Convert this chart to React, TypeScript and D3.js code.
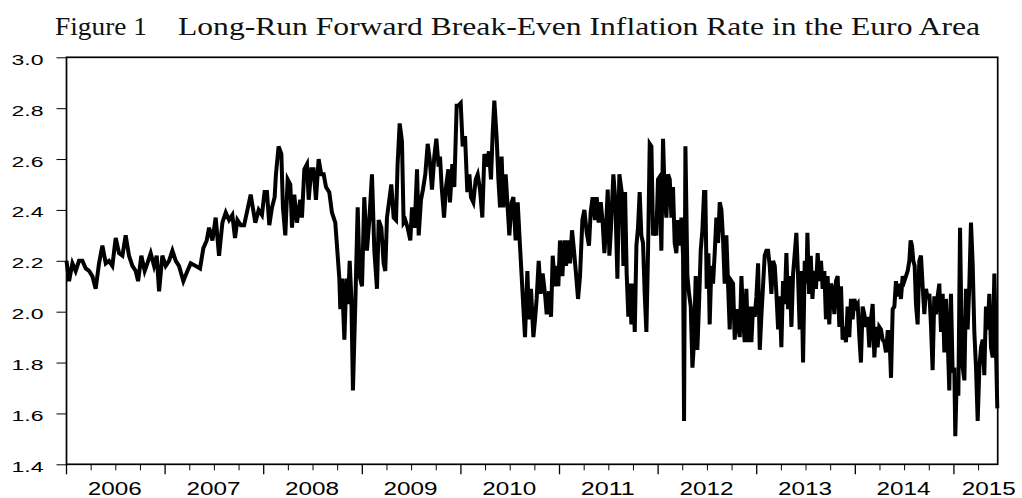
import { useEffect, useRef } from 'react';
import * as d3 from 'd3';

const WIDTH = 1022;
const HEIGHT = 498;
const MARGIN = { top: 57.3, right: 24.3, bottom: 33.7, left: 66.5 };

const TITLE_LEFT = 'Figure 1';
const TITLE_RIGHT = 'Long-Run Forward Break-Even Inflation Rate in the Euro Area';

const yTicks = [1.4, 1.6, 1.8, 2.0, 2.2, 2.4, 2.6, 2.8, 3.0];
const yearLabels = [2006, 2007, 2008, 2009, 2010, 2011, 2012, 2013, 2014, 2015];
const xDomain: [number, number] = [2006, 2015.444];

// [decimal year, break-even rate %]
const y2006: [number, number][] = [
  [2006.0, 2.2], [2006.026, 2.12], [2006.06, 2.19], [2006.093, 2.16], [2006.127, 2.2], [2006.161, 2.2],
  [2006.195, 2.17], [2006.229, 2.16], [2006.262, 2.14], [2006.296, 2.09], [2006.33, 2.19], [2006.364, 2.26],
  [2006.398, 2.19], [2006.431, 2.2], [2006.465, 2.18], [2006.499, 2.29], [2006.533, 2.23], [2006.567, 2.22],
  [2006.6, 2.3], [2006.634, 2.22], [2006.668, 2.18], [2006.702, 2.16], [2006.726, 2.12], [2006.759, 2.22],
  [2006.793, 2.16], [2006.82, 2.19], [2006.854, 2.23], [2006.888, 2.18], [2006.915, 2.22], [2006.939, 2.08],
  [2006.972, 2.22],
];
const y2007: [number, number][] = [
  [2007.006, 2.18], [2007.04, 2.2], [2007.074, 2.24], [2007.108, 2.2], [2007.141, 2.18], [2007.185, 2.12],
  [2007.226, 2.16], [2007.26, 2.19], [2007.31, 2.18], [2007.354, 2.17], [2007.388, 2.25], [2007.422, 2.28],
  [2007.446, 2.33], [2007.48, 2.28], [2007.513, 2.37], [2007.547, 2.22], [2007.581, 2.35], [2007.615, 2.39],
  [2007.649, 2.36], [2007.682, 2.38], [2007.709, 2.29], [2007.733, 2.36], [2007.767, 2.34], [2007.801, 2.34],
  [2007.835, 2.4], [2007.868, 2.46], [2007.915, 2.35], [2007.949, 2.4], [2007.982, 2.38],
];
const y2008: [number, number][] = [
  [2008.009, 2.47], [2008.033, 2.47], [2008.057, 2.34], [2008.084, 2.41], [2008.111, 2.45], [2008.124, 2.54],
  [2008.151, 2.65], [2008.179, 2.62], [2008.195, 2.41], [2008.219, 2.3], [2008.243, 2.52], [2008.27, 2.5],
  [2008.287, 2.33], [2008.31, 2.46], [2008.337, 2.35], [2008.371, 2.44], [2008.388, 2.37], [2008.412, 2.56],
  [2008.439, 2.58], [2008.456, 2.44], [2008.483, 2.56], [2008.506, 2.56], [2008.53, 2.44], [2008.557, 2.6],
  [2008.584, 2.54], [2008.608, 2.54], [2008.632, 2.49], [2008.665, 2.47], [2008.692, 2.39], [2008.726, 2.35],
  [2008.743, 2.26], [2008.767, 2.13], [2008.777, 2.01], [2008.794, 2.13], [2008.818, 1.89], [2008.838, 2.13],
  [2008.855, 2.03], [2008.872, 2.2], [2008.889, 2.05], [2008.905, 1.69], [2008.929, 2.03], [2008.953, 2.41],
  [2008.973, 2.14], [2008.997, 2.1],
];
const y2009: [number, number][] = [
  [2009.02, 2.45], [2009.047, 2.24], [2009.071, 2.36], [2009.098, 2.54], [2009.122, 2.24], [2009.149, 2.09],
  [2009.166, 2.36], [2009.193, 2.33], [2009.216, 2.19], [2009.233, 2.16], [2009.25, 2.37], [2009.274, 2.44],
  [2009.294, 2.5], [2009.318, 2.37], [2009.342, 2.36], [2009.358, 2.58], [2009.379, 2.74], [2009.402, 2.67],
  [2009.419, 2.35], [2009.436, 2.36], [2009.46, 2.33], [2009.487, 2.28], [2009.504, 2.41], [2009.531, 2.33],
  [2009.555, 2.56], [2009.572, 2.3], [2009.595, 2.44], [2009.615, 2.48], [2009.639, 2.54], [2009.663, 2.66],
  [2009.683, 2.6], [2009.707, 2.48], [2009.73, 2.61], [2009.751, 2.68], [2009.774, 2.57], [2009.788, 2.61],
  [2009.805, 2.49], [2009.829, 2.37], [2009.849, 2.49], [2009.873, 2.56], [2009.889, 2.43], [2009.913, 2.58],
  [2009.933, 2.49], [2009.957, 2.81], [2009.974, 2.81], [2009.998, 2.82],
];
const y2010: [number, number][] = [
  [2010.018, 2.65], [2010.042, 2.69], [2010.065, 2.47], [2010.086, 2.54], [2010.102, 2.45], [2010.126, 2.43],
  [2010.15, 2.52], [2010.17, 2.54], [2010.194, 2.48], [2010.217, 2.37], [2010.238, 2.62], [2010.261, 2.57],
  [2010.285, 2.63], [2010.305, 2.52], [2010.322, 2.7], [2010.339, 2.83], [2010.363, 2.68], [2010.38, 2.52],
  [2010.397, 2.41], [2010.413, 2.61], [2010.43, 2.41], [2010.454, 2.54], [2010.474, 2.41], [2010.491, 2.3],
  [2010.515, 2.43], [2010.532, 2.45], [2010.555, 2.28], [2010.576, 2.43], [2010.599, 2.26], [2010.616, 2.14],
  [2010.633, 2.02], [2010.65, 1.9], [2010.674, 2.16], [2010.691, 1.97], [2010.711, 2.09], [2010.735, 1.9],
  [2010.752, 1.97], [2010.768, 2.05], [2010.789, 2.2], [2010.809, 2.07], [2010.829, 2.15], [2010.853, 2.07],
  [2010.87, 1.99], [2010.894, 2.08], [2010.914, 1.98], [2010.931, 2.22], [2010.954, 2.1], [2010.971, 2.18],
  [2010.988, 2.1],
];
const y2011: [number, number][] = [
  [2011.005, 2.28], [2011.029, 2.14], [2011.049, 2.28], [2011.066, 2.18], [2011.09, 2.28], [2011.107, 2.19],
  [2011.127, 2.32], [2011.147, 2.24], [2011.167, 2.15], [2011.188, 2.05], [2011.208, 2.14], [2011.232, 2.36],
  [2011.252, 2.4], [2011.276, 2.31], [2011.299, 2.26], [2011.316, 2.39], [2011.336, 2.45], [2011.36, 2.36],
  [2011.377, 2.45], [2011.397, 2.35], [2011.418, 2.43], [2011.438, 2.35], [2011.455, 2.23], [2011.472, 2.33],
  [2011.489, 2.48], [2011.506, 2.22], [2011.522, 2.33], [2011.546, 2.54], [2011.566, 2.44], [2011.587, 2.13],
  [2011.607, 2.54], [2011.631, 2.47], [2011.648, 2.18], [2011.665, 2.47], [2011.681, 2.15], [2011.698, 1.98],
  [2011.712, 2.11], [2011.729, 1.95], [2011.746, 2.11], [2011.763, 1.92], [2011.78, 2.26], [2011.796, 2.33],
  [2011.813, 2.47], [2011.83, 2.3], [2011.847, 2.27], [2011.864, 2.07], [2011.881, 1.92], [2011.898, 2.24],
  [2011.915, 2.66], [2011.932, 2.65], [2011.949, 2.3], [2011.965, 2.32], [2011.982, 2.3], [2011.999, 2.52],
];
const y2012: [number, number][] = [
  [2012.016, 2.53], [2012.033, 2.24], [2012.05, 2.68], [2012.067, 2.45], [2012.084, 2.37], [2012.101, 2.54],
  [2012.118, 2.52], [2012.135, 2.37], [2012.151, 2.49], [2012.168, 2.27], [2012.185, 2.23], [2012.202, 2.36],
  [2012.219, 2.26], [2012.236, 2.37], [2012.253, 2.22], [2012.263, 1.57], [2012.277, 2.65], [2012.297, 2.14],
  [2012.314, 2.07], [2012.331, 2.02], [2012.348, 1.78], [2012.364, 1.88], [2012.381, 2.14], [2012.398, 1.85],
  [2012.415, 2.03], [2012.432, 2.24], [2012.449, 2.32], [2012.466, 2.47], [2012.479, 2.47], [2012.493, 2.09],
  [2012.51, 2.23], [2012.523, 1.95], [2012.54, 2.18], [2012.557, 2.11], [2012.574, 2.23], [2012.591, 2.37],
  [2012.608, 2.27], [2012.625, 2.43], [2012.642, 2.4], [2012.659, 2.28], [2012.675, 2.11], [2012.692, 2.3],
  [2012.709, 2.11], [2012.726, 1.93], [2012.743, 2.12], [2012.76, 2.11], [2012.777, 1.89], [2012.794, 2.01],
  [2012.811, 1.95], [2012.828, 1.9], [2012.845, 2.14], [2012.861, 1.98], [2012.878, 1.88], [2012.895, 2.09],
  [2012.912, 1.88], [2012.929, 2.02], [2012.946, 1.88], [2012.963, 2.02], [2012.98, 1.98],
];
const y2013: [number, number][] = [
  [2012.997, 2.06], [2013.014, 2.19], [2013.031, 1.85], [2013.047, 1.98], [2013.064, 2.1], [2013.081, 2.22],
  [2013.098, 2.24], [2013.115, 2.24], [2013.132, 2.18], [2013.149, 2.07], [2013.166, 2.2], [2013.183, 2.18],
  [2013.2, 2.07], [2013.217, 1.93], [2013.233, 2.06], [2013.25, 1.86], [2013.267, 2.12], [2013.284, 2.03],
  [2013.301, 2.23], [2013.318, 2.01], [2013.335, 2.14], [2013.352, 1.94], [2013.369, 2.15], [2013.386, 2.23],
  [2013.402, 2.31], [2013.419, 2.14], [2013.436, 1.93], [2013.453, 2.16], [2013.47, 1.8], [2013.487, 2.2],
  [2013.504, 2.11], [2013.514, 2.31], [2013.531, 2.07], [2013.548, 2.22], [2013.565, 2.05], [2013.582, 2.16],
  [2013.601, 2.09], [2013.618, 2.23], [2013.635, 2.12], [2013.652, 2.2], [2013.669, 2.09], [2013.686, 2.16],
  [2013.702, 1.97], [2013.719, 2.14], [2013.736, 1.95], [2013.753, 2.11], [2013.77, 2.09], [2013.787, 1.99],
  [2013.804, 2.12], [2013.821, 2.14], [2013.838, 1.94], [2013.855, 2.1], [2013.871, 1.89], [2013.888, 1.94],
  [2013.905, 1.88], [2013.922, 2.02], [2013.939, 1.9], [2013.956, 2.05], [2013.973, 1.97], [2013.99, 2.05],
];
const y2014: [number, number][] = [
  [2014.007, 2.02], [2014.024, 2.03], [2014.041, 1.9], [2014.057, 1.8], [2014.074, 2.02], [2014.091, 1.99],
  [2014.108, 1.94], [2014.125, 1.98], [2014.142, 1.86], [2014.159, 1.97], [2014.176, 2.03], [2014.193, 1.82],
  [2014.21, 1.94], [2014.226, 1.86], [2014.243, 1.94], [2014.26, 1.93], [2014.277, 1.89], [2014.294, 1.88],
  [2014.311, 1.84], [2014.328, 1.92], [2014.345, 1.92], [2014.362, 1.74], [2014.379, 2.01], [2014.396, 2.02],
  [2014.412, 2.12], [2014.429, 2.06], [2014.446, 2.11], [2014.463, 2.05], [2014.48, 2.14], [2014.497, 2.12],
  [2014.514, 2.14], [2014.531, 2.16], [2014.548, 2.2], [2014.561, 2.28], [2014.575, 2.26], [2014.588, 2.2],
  [2014.602, 2.18], [2014.615, 2.03], [2014.632, 1.95], [2014.649, 2.2], [2014.666, 2.22], [2014.683, 2.1],
  [2014.7, 1.99], [2014.717, 2.09], [2014.734, 2.05], [2014.751, 2.07], [2014.767, 1.95], [2014.784, 1.77],
  [2014.801, 2.06], [2014.818, 1.99], [2014.835, 2.06], [2014.852, 2.11], [2014.869, 1.92], [2014.886, 2.07],
  [2014.903, 1.84], [2014.92, 2.05], [2014.937, 1.89], [2014.953, 1.69], [2014.97, 2.07], [2014.987, 1.76],
];
const y2015: [number, number][] = [
  [2015.004, 1.78], [2015.014, 1.51], [2015.028, 1.73], [2015.045, 1.67], [2015.062, 2.33], [2015.075, 1.99],
  [2015.089, 1.78], [2015.106, 1.73], [2015.122, 2.09], [2015.139, 1.93], [2015.156, 2.1], [2015.173, 2.35],
  [2015.19, 2.19], [2015.207, 1.92], [2015.224, 1.78], [2015.241, 1.57], [2015.258, 1.78], [2015.275, 1.86],
  [2015.292, 1.89], [2015.308, 1.75], [2015.325, 2.02], [2015.342, 1.93], [2015.359, 2.07], [2015.376, 1.86],
  [2015.393, 1.82], [2015.41, 2.15], [2015.44, 1.62],
];

const series = [...y2006, ...y2007, ...y2008, ...y2009, ...y2010, ...y2011, ...y2012, ...y2013, ...y2014, ...y2015];

const SANS = '"Liberation Sans", Arial, sans-serif';
const SERIF = '"Liberation Serif", "Times New Roman", serif';

export default function App() {
  const svgRef = useRef<SVGSVGElement>(null);

  useEffect(() => {
    if (!svgRef.current) return;
    const svg = d3.select(svgRef.current);
    svg.selectAll('*').remove();

    const x = d3.scaleLinear().domain(xDomain).range([MARGIN.left, WIDTH - MARGIN.right]);
    const y = d3.scaleLinear().domain([1.4, 3.0]).range([HEIGHT - MARGIN.bottom, MARGIN.top]);

    svg.append('rect').attr('width', WIDTH).attr('height', HEIGHT).attr('fill', '#fff');

    // Title
    svg
      .append('text')
      .attr('x', 55)
      .attr('y', 35)
      .attr('font-family', SERIF)
      .attr('font-size', 25)
      .attr('fill', '#111')
      .attr('textLength', 92)
      .attr('lengthAdjust', 'spacingAndGlyphs')
      .text(TITLE_LEFT);
    svg
      .append('text')
      .attr('x', 178)
      .attr('y', 35)
      .attr('font-family', SERIF)
      .attr('font-size', 25)
      .attr('fill', '#111')
      .attr('textLength', 802)
      .attr('lengthAdjust', 'spacingAndGlyphs')
      .text(TITLE_RIGHT);

    // Y axis
    const yAxis = svg
      .append('g')
      .attr('transform', `translate(${MARGIN.left},0)`)
      .call(d3.axisLeft(y).tickValues(yTicks).tickSize(10).tickPadding(13).tickFormat(d3.format('.1f')));
    yAxis.select('.domain').remove();
    yAxis.selectAll('line').attr('stroke', '#000').attr('stroke-width', 1);
    yAxis
      .selectAll('text')
      .attr('dy', '0.45em')
      .attr('font-family', SANS)
      .attr('font-size', 15.5)
      .attr('fill', '#000')
      .attr('textLength', 32)
      .attr('lengthAdjust', 'spacingAndGlyphs');

    // X axis: quarter ticks, longer year ticks
    const bottom = HEIGHT - MARGIN.bottom;
    const quarters = d3.range(2006, xDomain[1], 0.25);
    svg
      .append('g')
      .selectAll('line')
      .data(quarters)
      .join('line')
      .attr('x1', (d) => x(d))
      .attr('x2', (d) => x(d))
      .attr('y1', bottom)
      .attr('y2', (d) => bottom + (Number.isInteger(d) ? 10 : 6))
      .attr('stroke', '#000')
      .attr('stroke-width', (d) => (Number.isInteger(d) ? 1.3 : 1));

    const xMax = x.range()[1];
    svg
      .append('g')
      .selectAll('text')
      .data(yearLabels)
      .join('text')
      .attr('x', (d) => Math.min(x(d + 0.5) - 1, xMax - 9))
      .attr('y', bottom + 31)
      .attr('text-anchor', 'middle')
      .attr('font-family', SANS)
      .attr('font-size', 18)
      .attr('fill', '#000')
      .attr('textLength', 54)
      .attr('lengthAdjust', 'spacingAndGlyphs')
      .text((d) => String(d));

    // Series
    const line = d3
      .line<[number, number]>()
      .x((d) => x(d[0]))
      .y((d) => y(d[1]));
    svg
      .append('path')
      .datum(series)
      .attr('d', line)
      .attr('fill', 'none')
      .attr('stroke', '#000')
      .attr('stroke-width', 4)
      .attr('stroke-linejoin', 'miter');

    // Frame
    svg
      .append('rect')
      .attr('x', MARGIN.left)
      .attr('y', MARGIN.top)
      .attr('width', xMax - MARGIN.left)
      .attr('height', bottom - MARGIN.top)
      .attr('fill', 'none')
      .attr('stroke', '#000')
      .attr('stroke-width', 1.7);
  }, []);

  return (
    <svg
      ref={svgRef}
      width={WIDTH}
      height={HEIGHT}
      viewBox={`0 0 ${WIDTH} ${HEIGHT}`}
      style={{ position: 'absolute', left: 0, top: 0, display: 'block' }}
      role="img"
      aria-label="Long-run forward break-even inflation rate in the euro area, 2006 to 2015"
    />
  );
}
